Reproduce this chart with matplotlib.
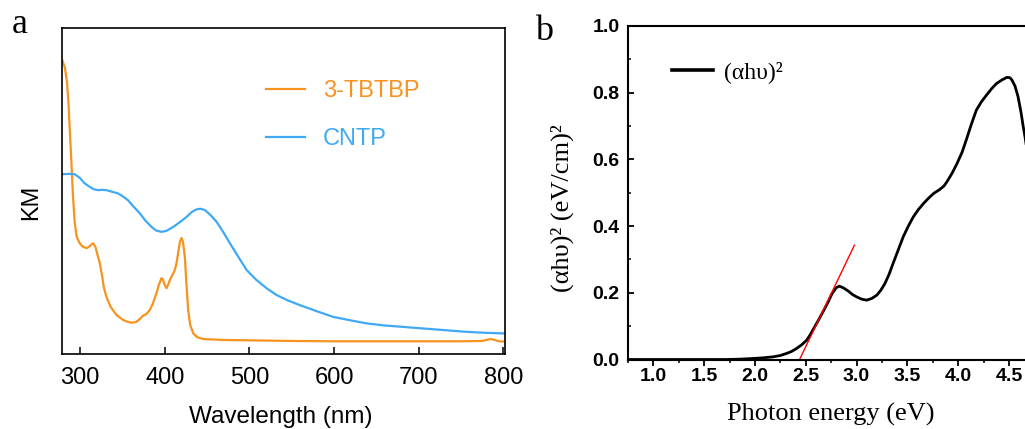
import matplotlib
matplotlib.use("Agg")
import matplotlib.pyplot as plt
from matplotlib.ticker import MultipleLocator

# ---------------- data (panel a) ----------------
tbtbp_wl = [279, 282, 284.6, 286.5, 288, 289.8, 291.5, 293.7, 296, 299.6, 303, 307.6, 311,
            315.4, 318, 320, 323.3, 326, 328, 331.2, 336, 343, 350, 355, 360.8, 366, 370,
            374.5, 378, 382.4, 386, 390.3, 393, 396.2, 398, 400, 402.1, 404, 406, 409, 412,
            414, 415.8, 418, 419.9, 421.5, 423.8, 425.5, 427.7, 430, 433.6, 438, 445.4,
            470, 500, 550, 600, 650, 700, 750, 775, 780, 785, 790, 795, 802]
tbtbp_km = [0.902, 0.880, 0.835, 0.760, 0.680, 0.586, 0.490, 0.402, 0.360, 0.340, 0.330,
            0.325, 0.330, 0.340, 0.330, 0.310, 0.279, 0.240, 0.205, 0.175, 0.145, 0.120,
            0.106, 0.100, 0.096, 0.098, 0.106, 0.118, 0.122, 0.135, 0.155, 0.187, 0.212,
            0.233, 0.228, 0.212, 0.202, 0.212, 0.227, 0.242, 0.258, 0.280, 0.310, 0.345,
            0.356, 0.345, 0.298, 0.220, 0.135, 0.090, 0.064, 0.052, 0.046, 0.043, 0.042,
            0.040, 0.039, 0.039, 0.039, 0.039, 0.040, 0.043, 0.046, 0.043, 0.039, 0.038]

cntp_wl = [279, 287, 293.7, 300, 305, 311.5, 316, 321.3, 326, 331.2, 338, 344.9, 350, 356.7,
           363, 370.6, 377, 384.4, 390, 396.2, 402, 409.9, 418, 425.8, 432, 437.6, 442,
           447.4, 454, 461.2, 469, 477, 487, 496.7, 508, 520.3, 532.2, 545, 559.7, 580, 599,
           620, 638.5, 658, 677.9, 697, 717.3, 737, 756.7, 780, 802]
cntp_km = [0.552, 0.553, 0.552, 0.540, 0.525, 0.513, 0.506, 0.503, 0.504, 0.503, 0.498,
           0.493, 0.485, 0.472, 0.453, 0.432, 0.410, 0.390, 0.379, 0.375, 0.378, 0.390,
           0.405, 0.421, 0.436, 0.444, 0.446, 0.442, 0.427, 0.406, 0.375, 0.340, 0.298,
           0.258, 0.228, 0.202, 0.181, 0.165, 0.150, 0.131, 0.114, 0.103, 0.094, 0.088,
           0.084, 0.080, 0.076, 0.072, 0.068, 0.065, 0.063]

# ---------------- data (panel b) ----------------
energy = [0.75, 1.0, 1.5, 1.72, 1.85, 1.98, 2.08, 2.18, 2.25, 2.31, 2.36, 2.41, 2.46, 2.51,
          2.54, 2.57, 2.62, 2.67, 2.72, 2.76, 2.80, 2.83, 2.87, 2.92, 2.96, 3.00, 3.05,
          3.10, 3.15, 3.20, 3.24, 3.28, 3.32, 3.36, 3.41, 3.46, 3.51, 3.56, 3.61, 3.66,
          3.71, 3.76, 3.82, 3.86, 3.89, 3.94, 3.99, 4.04, 4.08, 4.13, 4.18, 4.23, 4.28,
          4.33, 4.38, 4.43, 4.48, 4.51, 4.53, 4.56, 4.59, 4.62, 4.64, 4.66, 4.70]
ahv2 = [0.0, 0.0, 0.0, 0.0, 0.001, 0.003, 0.005, 0.008, 0.012, 0.018, 0.024, 0.033, 0.044,
        0.058, 0.072, 0.088, 0.115, 0.143, 0.172, 0.198, 0.215, 0.220, 0.215, 0.205, 0.195,
        0.188, 0.181, 0.178, 0.183, 0.193, 0.208, 0.228, 0.255, 0.288, 0.328, 0.368, 0.400,
        0.428, 0.450, 0.468, 0.484, 0.498, 0.510, 0.520, 0.533, 0.558, 0.588, 0.622, 0.658,
        0.705, 0.748, 0.773, 0.793, 0.812, 0.828, 0.838, 0.846, 0.845, 0.838, 0.820, 0.788,
        0.740, 0.700, 0.665, 0.580]
fit_e = [2.44, 2.98]
fit_y = [0.0, 0.343]

xticks_a = [300, 400, 500, 600, 700, 800]
xticks_b = [1.0, 1.5, 2.0, 2.5, 3.0, 3.5, 4.0, 4.5]
yticks_b = [0.0, 0.2, 0.4, 0.6, 0.8, 1.0]

W, H = 1025, 429
fig = plt.figure(figsize=(W / 100, H / 100), dpi=100)

sans = "Liberation Sans"
serif = "Liberation Serif"
orange = "#F7931E"
blue = "#3FA9F5"

# ---------------- panel a ----------------
axa = fig.add_axes([62.3 / W, (H - 354) / H, (505 - 62.3) / W, (354 - 28.3) / H])
axa.plot(tbtbp_wl, tbtbp_km, color=orange, lw=1.6, label="3-TBTBP", solid_joinstyle="round")
axa.plot(cntp_wl, cntp_km, color=blue, lw=1.6, label="CNTP", solid_joinstyle="round")
axa.set_xlim(279, 802)
axa.set_ylim(0, 1)
axa.set_xticks(xticks_a)
axa.set_yticks([])
axa.tick_params(axis="x", direction="in", length=5, width=1.1, pad=9,
                labelsize=17, top=False)
for lab in axa.get_xticklabels():
    lab.set_fontfamily(sans)
for s in axa.spines.values():
    s.set_linewidth(1.2)
axa.set_xlabel("Wavelength (nm)", fontsize=17.5, fontfamily=sans)
axa.xaxis.set_label_coords(0.494, -0.16)
axa.set_ylabel("KM", fontsize=17, fontfamily=sans)
axa.yaxis.set_label_coords(-0.046, 0.466)
leg = axa.legend(loc="upper left", bbox_to_anchor=(0.4595, 0.84), frameon=False,
                 borderpad=0, borderaxespad=0, handlelength=1.65, handletextpad=0.76,
                 labelspacing=1.1, prop={"family": sans, "size": 17})
for t, c in zip(leg.get_texts(), [orange, blue]):
    t.set_color(c)

# ---------------- panel b ----------------
x0b = 627.9
ppe = 101.6
xmax = 4.8
wpx = (xmax - 0.75) * ppe
axb = fig.add_axes([x0b / W, (H - 359.5) / H, wpx / W, (359.5 - 26) / H])
axb.plot(energy, ahv2, color="black", lw=2.0, label="(αhυ)²", solid_joinstyle="round")
axb.plot(fit_e, fit_y, color="red", lw=1.0)
axb.set_xlim(0.75, xmax)
axb.set_ylim(0, 1.0)
axb.set_xticks(xticks_b)
axb.set_yticks(yticks_b)
axb.xaxis.set_minor_locator(MultipleLocator(0.25))
axb.yaxis.set_minor_locator(MultipleLocator(0.1))
axb.tick_params(axis="x", which="major", direction="out", length=4, width=1.3, pad=2, labelsize=14)
axb.tick_params(axis="x", which="minor", direction="out", length=2.5, width=1.1)
axb.tick_params(axis="y", which="major", direction="in", length=4, width=1.3, pad=6, labelsize=14)
axb.tick_params(axis="y", which="minor", direction="in", length=2.5, width=1.1)
for lab in axb.get_xticklabels() + axb.get_yticklabels():
    lab.set_fontfamily(sans)
    lab.set_fontweight("bold")
for s in axb.spines.values():
    s.set_linewidth(1.5)
axb.set_xlabel("Photon energy (eV)", fontsize=19, fontfamily=serif)
axb.xaxis.set_label_coords((831 - x0b) / wpx, -0.13)
axb.set_ylabel("(αhυ)² (eV/cm)²", fontsize=19, fontfamily=serif)
axb.yaxis.set_label_coords((574 - x0b) / wpx, 0.454)
lb = axb.legend(loc="upper left", bbox_to_anchor=((671.7 - x0b) / wpx, 0.895),
                frameon=False, borderpad=0, borderaxespad=0, handlelength=1.75,
                handletextpad=0.45, prop={"family": serif, "size": 17})
for ln in lb.get_lines():
    ln.set_linewidth(2.6)

# panel labels
fig.text(12 / W, 1 - 33 / H, "a", fontsize=26, fontfamily=serif, va="baseline", ha="left")
fig.text(535 / W, 1 - 40 / H, "b", fontsize=26, fontfamily=serif, va="baseline", ha="left")

fig.savefig("out.png", dpi=100)
